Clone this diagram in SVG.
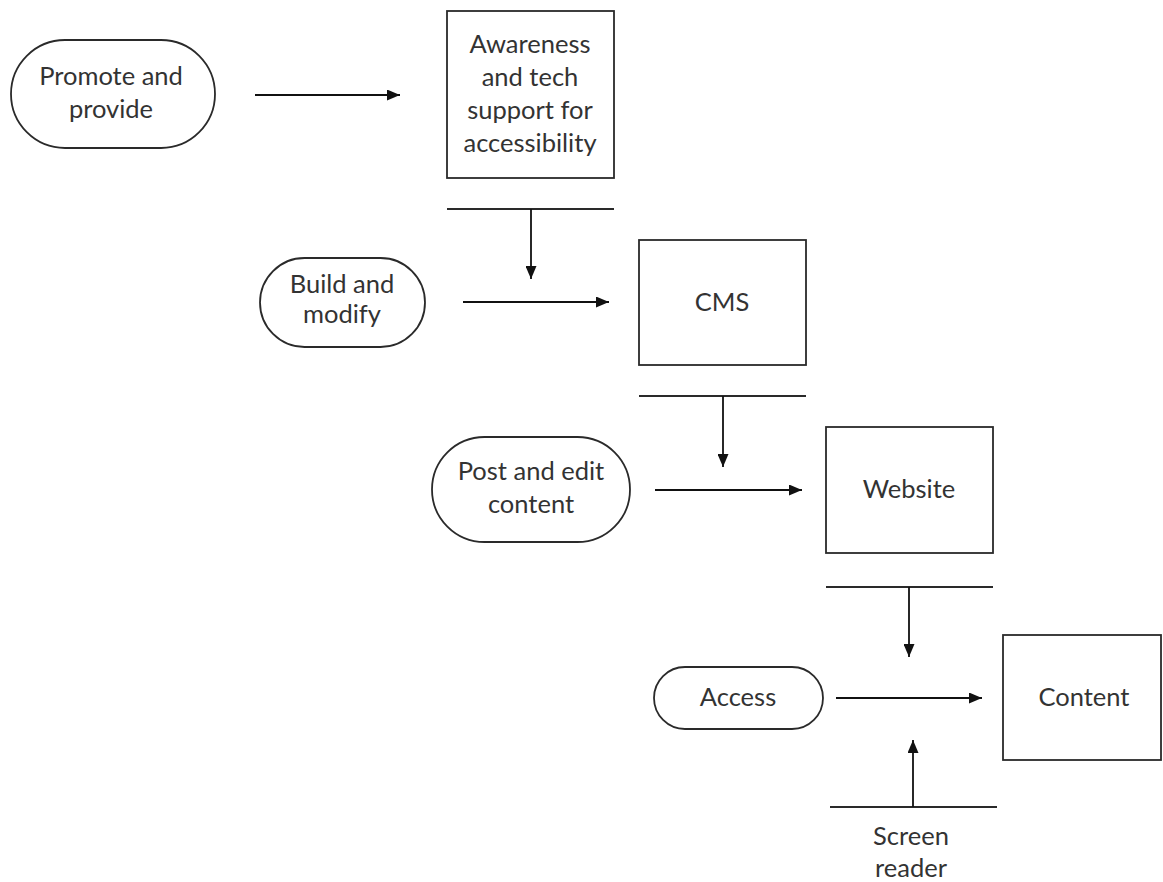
<svg xmlns="http://www.w3.org/2000/svg" width="1163" height="882" viewBox="0 0 1163 882">
<style>
.shape{fill:#fff;stroke:#2a2a2a;stroke-width:1.8}
.t{font-family:Lato,"Open Sans","Liberation Sans",sans-serif;font-size:25.5px;fill:#333;text-anchor:middle}
.c{stroke:#111;stroke-width:1.8;fill:none}
.bar{stroke:#2a2a2a;stroke-width:1.8}
</style>
<defs>
<marker id="ah" viewBox="0 0 13 11" refX="13" refY="5.5" markerWidth="13" markerHeight="11" markerUnits="userSpaceOnUse" orient="auto">
<path d="M0,0 L13,5.5 L0,11 Z" fill="#111"/>
</marker>
</defs>
<rect width="1163" height="882" fill="#fff"/>
<g id="promote">
<rect class="shape" x="11" y="40" width="204" height="108" rx="54" ry="54"/>
<text class="t" x="111" y="85">Promote and</text>
<text class="t" x="111" y="118">provide</text>
</g>
<g id="awareness">
<rect class="shape" x="447" y="11" width="167" height="167"/>
<text class="t" x="530" y="53">Awareness</text>
<text class="t" x="530" y="86">and tech</text>
<text class="t" x="530" y="119">support for</text>
<text class="t" x="530" y="152">accessibility</text>
</g>
<g id="build">
<rect class="shape" x="260" y="258" width="165" height="89" rx="44.5" ry="44.5"/>
<text class="t" x="342" y="293">Build and</text>
<text class="t" x="342" y="323">modify</text>
</g>
<g id="cms">
<rect class="shape" x="639" y="240" width="167" height="125"/>
<text class="t" x="722" y="311">CMS</text>
</g>
<g id="post">
<rect class="shape" x="432" y="437" width="198" height="105" rx="52.5" ry="52.5"/>
<text class="t" x="531" y="480">Post and edit</text>
<text class="t" x="531" y="513">content</text>
</g>
<g id="website">
<rect class="shape" x="826" y="427" width="167" height="126"/>
<text class="t" x="909" y="498">Website</text>
</g>
<g id="access">
<rect class="shape" x="654" y="667" width="169" height="62" rx="31" ry="31"/>
<text class="t" x="738" y="706">Access</text>
</g>
<g id="content">
<rect class="shape" x="1003" y="635" width="158" height="125"/>
<text class="t" x="1084" y="706">Content</text>
</g>
<g id="screen-reader">
<line class="bar" x1="830" y1="807" x2="997" y2="807"/>
<text class="t" x="911" y="845">Screen</text>
<text class="t" x="911" y="877">reader</text>
</g>
<g id="connectors">
<line class="bar" x1="447" y1="209" x2="614" y2="209"/>
<line class="bar" x1="639" y1="396" x2="806" y2="396"/>
<line class="bar" x1="826" y1="587" x2="993" y2="587"/>
<line class="c" x1="255" y1="95" x2="400" y2="95" marker-end="url(#ah)"/>
<line class="c" x1="531" y1="209" x2="531" y2="279" marker-end="url(#ah)"/>
<line class="c" x1="463" y1="302" x2="609" y2="302" marker-end="url(#ah)"/>
<line class="c" x1="723" y1="396" x2="723" y2="467" marker-end="url(#ah)"/>
<line class="c" x1="655" y1="490" x2="802" y2="490" marker-end="url(#ah)"/>
<line class="c" x1="909" y1="587" x2="909" y2="657" marker-end="url(#ah)"/>
<line class="c" x1="836" y1="698" x2="982" y2="698" marker-end="url(#ah)"/>
<line class="c" x1="913" y1="807" x2="913" y2="740" marker-end="url(#ah)"/>
</g>
</svg>
